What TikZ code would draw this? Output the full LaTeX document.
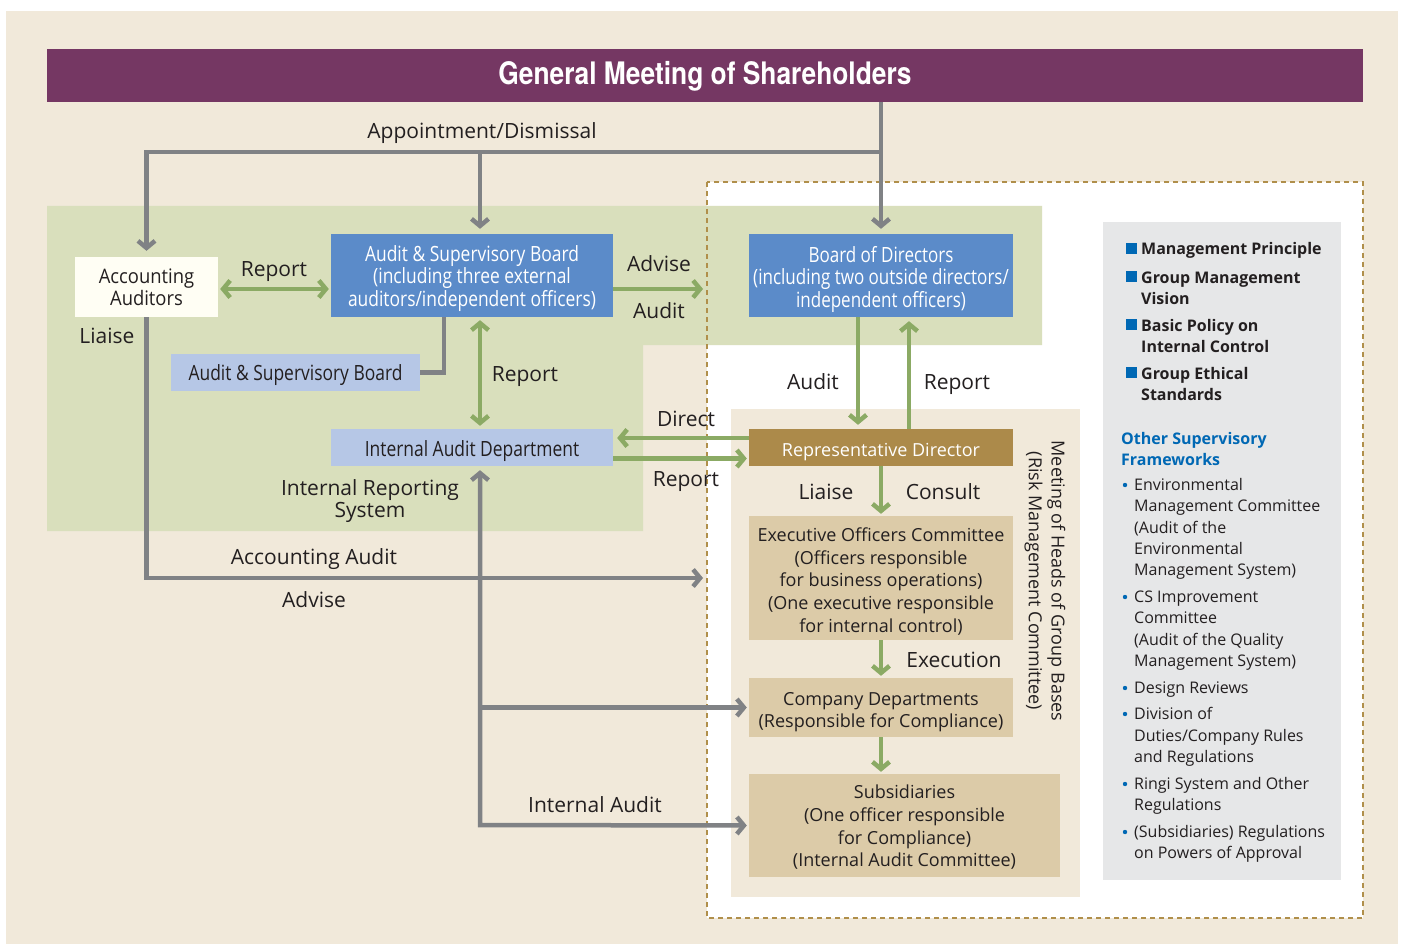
\documentclass[tikz,border=0pt]{standalone}
\usepackage{fontspec}
\setmainfont{Open Sans}
\newfontfamily\condf{Open Sans}[FakeStretch=0.83]
\newfontfamily\condg{Open Sans}[FakeStretch=0.81]
\newfontfamily\aaf{Open Sans}[FakeStretch=0.92]
\newfontfamily\titlef{TeX Gyre Heros}[FakeStretch=0.85]
\usetikzlibrary{arrows.meta,calc}
\definecolor{bgbeige}{HTML}{F1E9DA}
\definecolor{greenbg}{HTML}{D9DFBC}
\definecolor{gmpurple}{HTML}{753763}
\definecolor{boxblue}{HTML}{5B8BC9}
\definecolor{lblue}{HTML}{B6C7E6}
\definecolor{rdbrown}{HTML}{AC8A4A}
\definecolor{tan}{HTML}{DCCBA8}
\definecolor{lgray}{HTML}{808285}
\definecolor{agreen}{HTML}{8BAA64}
\definecolor{gold}{HTML}{B08F4A}
\definecolor{panelgray}{HTML}{E6E7E8}
\definecolor{pblue}{HTML}{0068B4}
\definecolor{ink}{HTML}{231F20}
\definecolor{aawhite}{HTML}{FFFEF4}
\begin{document}
\begin{tikzpicture}[x=1pt,y=-1pt,
  lbl/.style={text=ink, font=\fontsize{21}{22}\selectfont, inner sep=0pt, text height=15.5pt, text depth=0pt},
  mlbl/.style={text=ink, font=\fontsize{21}{22}\selectfont, inner sep=0pt, align=center},
  boxbg/.style={inner sep=0pt},
  btext/.style={inner sep=0pt, align=center},
  condtext/.style={btext, font=\condf\fontsize{21}{22.5}\selectfont},
  regtext/.style={btext, font=\fontsize{18}{22.7}\selectfont, text=ink},
  gl/.style={draw=lgray, line width=4.5pt},
  grl/.style={draw=agreen, line width=4.5pt},
  tipend/.style={-{Straight Barb[length=7pt,width=17pt]}},
  tipboth/.style={{Straight Barb[length=7pt,width=17pt]}-{Straight Barb[length=7pt,width=17pt]}},
  ptext/.style={inner sep=0pt, anchor=west, align=left, text=ink, font=\fontsize{16}{21.3}\selectfont},
  pbold/.style={ptext, font=\bfseries\fontsize{16}{21.3}\selectfont},
]
\useasboundingbox (0,0) rectangle (1403,944);
\fill[white] (0,0) rectangle (1403,944);
\fill[bgbeige] (6,11) rectangle (1398,944);
\fill[white] (707,182) rectangle (1363,918);
\fill[greenbg] (47,206) -- (1042,206) -- (1042,345) -- (643,345) -- (643,531) -- (47,531) -- cycle;
\fill[bgbeige] (731,409) rectangle (1080,897);
\draw[gold, line width=2pt, dash pattern=on 5pt off 4pt] (707,182) rectangle (1363,918);
\fill[panelgray] (1103,222) rectangle (1341,880);

% banner
\node[fill=gmpurple, minimum width=1316pt, minimum height=53pt, inner sep=0pt] (gm) at (705,75.5) {};
\node[inner sep=0pt, text=white, font=\titlef\bfseries\fontsize{31}{33}\selectfont] (gmt) at ($(gm)+(0,0.5)$) {General Meeting of Shareholders};

% boxes
\node[boxbg, fill=aawhite, minimum width=143pt, minimum height=60pt] (aa) at (146.5,287) {};
\node[btext, text=ink, font=\aaf\fontsize{20}{22}\selectfont] (aat) at (aa) {Accounting\\Auditors};
\node[boxbg, fill=boxblue, minimum width=282pt, minimum height=83pt] (asb) at (472,275.5) {};
\node[condtext, text=white] (asbt) at ($(asb)+(0,3)$)
  {Audit \& Supervisory Board\\(including three external\\auditors/independent officers)};
\node[boxbg, fill=boxblue, minimum width=264pt, minimum height=83pt] (bod) at (881,275.5) {};
\node[condtext, text=white, font=\condg\fontsize{21}{22.5}\selectfont] (bodt) at ($(bod)+(0,3.5)$)
  {Board of Directors\\(including two outside directors/\\independent officers)};
\node[boxbg, fill=lblue, minimum width=249pt, minimum height=37pt] (sasb) at (295.5,372.5) {};
\node[condtext, text=ink] (sasbt) at ($(sasb)+(0,3)$) {Audit \& Supervisory Board};
\node[boxbg, fill=lblue, minimum width=282pt, minimum height=37pt] (iad) at (472,447.5) {};
\node[condtext, text=ink] (iadt) at ($(iad)+(0,4)$) {Internal Audit Department};
\node[boxbg, fill=rdbrown, minimum width=264pt, minimum height=37pt] (rd) at (881,447.5) {};
\node[regtext, text=white] (rdt) at ($(rd)+(0,5)$) {Representative Director};
\node[boxbg, fill=tan, minimum width=264pt, minimum height=124pt] (eoc) at (881,578) {};
\node[regtext] (eoct) at ($(eoc)+(0,3.5)$)
  {Executive Officers Committee\\(Officers responsible\\for business operations)\\(One executive responsible\\for internal control)};
\node[boxbg, fill=tan, minimum width=264pt, minimum height=59pt] (cd) at (881,707.5) {};
\node[regtext] (cdt) at ($(cd)+(0,4.5)$) {Company Departments\\(Responsible for Compliance)};
\node[boxbg, fill=tan, minimum width=311pt, minimum height=103pt] (subs) at (904.5,825.5) {};
\node[regtext] (subst) at ($(subs)+(0,2)$)
  {Subsidiaries\\(One officer responsible\\for Compliance)\\(Internal Audit Committee)};
\node[regtext, rotate=-90] (mhg) at (1045,581)
  {Meeting of Heads of Group Bases\\(Risk Management Committee)};

% gray connectors
\coordinate (apj) at (881,152);
\coordinate (asbx) at (480,0);
\coordinate (acend) at (703,578);
\coordinate (sj) at (444,372.5);
\coordinate (ib) at (480,825);
\draw[gl, tipend, shorten >=5pt] (gm.south -| bod.north) -- (bod.north);
\draw[gl, tipend, shorten >=6pt] (apj) -- (apj -| aa.north) -- (aa.north);
\draw[gl, tipend, shorten >=5pt] (asbx |- apj) -- (asbx |- asb.north);
\draw[gl, tipend] (aa.south) -- (aa.south |- acend) -- (acend);
\draw[gl] (sasb.east) -- (sj) -- (sj |- asb.south);
\draw[gl, tipboth, shorten <=2pt, shorten >=4pt] (subs.west) -- (ib) -- (ib |- iad.south);
\draw[gl, tipend, shorten >=2pt] (ib |- cd.west) -- (cd.west);

% green connectors
\coordinate (ry) at (0,289);
\coordinate (adv) at (703,289);
\draw[grl, tipboth, shorten <=2pt, shorten >=2pt] (aa.east |- ry) -- (asb.west |- ry);
\draw[grl, tipend] (asb.east |- adv) -- (adv);
\draw[grl, tipboth, shorten <=3pt, shorten >=3pt] ($(asb.south)+(8,0)$) -- ($(iad.north)+(8,0)$);
\draw[grl, tipend, shorten >=4pt] ($(rd.west)+(0,-9.5)$) -- ($(iad.east)+(0,-9.5)$);
\draw[grl, tipend, shorten >=2pt] ($(iad.east)+(0,11)$) -- ($(rd.west)+(0,11)$);
\draw[grl, tipend, shorten >=4pt] ($(bod.south)+(-23,0)$) -- ($(rd.north)+(-23,0)$);
\draw[grl, tipend, shorten >=4pt] ($(rd.north)+(28,0)$) -- ($(bod.south)+(28,0)$);
\draw[grl, tipend, shorten >=2pt] (rd.south) -- (eoc.north);
\draw[grl, tipend, shorten >=2pt] (eoc.south) -- (cd.north);
\draw[grl, tipend, shorten >=2pt] (cd.south) -- (cd.south |- subs.north);

% labels
\node[lbl] (l1) at (482,131) {Appointment/Dismissal};
\node[lbl] (l2) at (274,269) {Report};
\node[lbl] (l3) at (659,264) {Advise};
\node[lbl] (l4) at (659,311) {Audit};
\node[lbl] (l5) at (107,336) {Liaise};
\node[lbl] (l6) at (525,374) {Report};
\node[lbl] (l7) at (686,419) {Direct};
\node[lbl] (l8) at (686,479) {Report};
\node[mlbl] (l9) at (370,501) {Internal Reporting\\System};
\node[lbl] (l10) at (314,557) {Accounting Audit};
\node[lbl] (l11) at (314,600) {Advise};
\node[lbl] (l12) at (813,382) {Audit};
\node[lbl] (l13) at (957,382) {Report};
\node[lbl] (l14) at (826,492) {Liaise};
\node[lbl] (l15) at (943,492) {Consult};
\node[lbl] (l16) at (954,660) {Execution};
\node[lbl] (l17) at (595,805) {Internal Audit};

% right panel
\fill[pblue] (1126,243.5) rectangle (1137,254.5);
\fill[pblue] (1126,270.5) rectangle (1137,281.5);
\fill[pblue] (1126,318.5) rectangle (1137,329.5);
\fill[pblue] (1126,366.5) rectangle (1137,377.5);
\node[pbold] (p1) at (1141,250.5) {Management Principle};
\node[pbold] (p2) at (1141,288) {Group Management\\Vision};
\node[pbold] (p3) at (1141,336) {Basic Policy on\\Internal Control};
\node[pbold] (p4) at (1141,384) {Group Ethical\\Standards};
\node[pbold, text=pblue] (p5) at (1121,449) {Other Supervisory\\Frameworks};
\foreach \y in {485,597,688,714,784,832} \fill[pblue] (1125,\y) circle (2.2pt);
\node[ptext] (b1) at (1134,529) {Environmental\\Management Committee\\(Audit of the\\Environmental\\Management System)};
\node[ptext] (b2) at (1134,630.5) {CS Improvement\\Committee\\(Audit of the Quality\\Management System)};
\node[ptext] (b3) at (1134,689.5) {Design Reviews};
\node[ptext] (b4) at (1134,737) {Division of\\Duties/Company Rules\\and Regulations};
\node[ptext] (b5) at (1134,796) {Ringi System and Other\\Regulations};
\node[ptext] (b6) at (1134,844) {(Subsidiaries) Regulations\\on Powers of Approval};
\end{tikzpicture}
\end{document}
